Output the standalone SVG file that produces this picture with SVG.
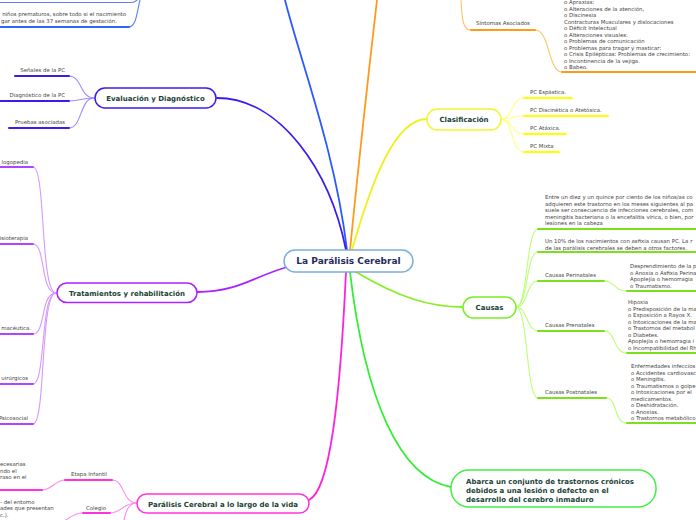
<svg xmlns="http://www.w3.org/2000/svg" width="696" height="520" viewBox="0 0 696 520">
<style>
.t{font-family:"DejaVu Sans",Verdana,sans-serif;font-size:5.4px;fill:#444}
.h{font-family:"DejaVu Sans",Verdana,sans-serif;font-size:7px;font-weight:bold;fill:#1a4236}
.m{font-family:"DejaVu Sans",Verdana,sans-serif;font-size:9px;font-weight:bold;fill:#1f2d5c}
.c{fill:none;stroke-linecap:round}
.main{stroke-width:1.8}
.sub{stroke-width:1.1}
.ul{stroke-width:2}
.box{fill:#fff;stroke-width:1.5}
</style>
<rect width="696" height="520" fill="#fff"/>
<g id="connectors" class="c">
  <path class="c main" stroke="#2b59ff" d="M347,250 C335,150 300,60 285,0"/>
  <path class="c main" stroke="#3a1cf0" d="M217,98 C280,98 330,170 346,250"/>
  <path class="c main" stroke="#ff9a1a" d="M350,250 C360,150 370,60 377,0"/>
  <path class="c main" stroke="#f0f020" d="M352,250 C372,180 395,119 427,119"/>
  <path class="c main" stroke="#88ee22" d="M356,272 C400,298 430,307 463,307"/>
  <path class="c main" stroke="#33ee33" d="M350,272 C365,400 400,478 451,487"/>
  <path class="c main" stroke="#ff22dd" d="M346,272 C340,400 330,490 309,500"/>
  <path class="c main" stroke="#aa22ff" d="M197,292 C240,292 255,275 291,266"/>
  <path class="c sub" stroke="#5b7fff" d="M0,2.5 H131 C135,2.5 136,1 137,0"/>
  <path class="c sub" stroke="#5b7fff" d="M129,27 C136,27 137,12 140,0"/>
  <path class="c ul" stroke="#3366ff" d="M0,27 H129"/>
  <path class="c sub" stroke="#9a8cff" d="M94,98 C80,98 82,76 69,76"/>
  <path class="c sub" stroke="#9a8cff" d="M94,98 C80,98 82,101 69,101"/>
  <path class="c sub" stroke="#9a8cff" d="M94,98 C80,98 82,128 69,128"/>
  <path class="c ul" stroke="#3a1cf0" d="M15,76 H69 M0,101 H69 M9,128 H69"/>
  <path class="c sub" stroke="#ffc266" d="M461,0 C462,20 463,30 471,30"/>
  <path class="c sub" stroke="#ffc266" d="M535,30 C550,30 548,72 562,72"/>
  <path class="c ul" stroke="#ff9a1a" d="M471,30 H535 M562,72 H696"/>
  <path class="c sub" stroke="#ffff80" d="M501,119 C513,119 511,98 524,98"/>
  <path class="c sub" stroke="#ffff80" d="M501,119 C513,119 511,116 524,116"/>
  <path class="c sub" stroke="#ffff80" d="M501,119 C513,119 511,134 524,134"/>
  <path class="c sub" stroke="#ffff80" d="M501,119 C513,119 511,152 524,152"/>
  <path class="c ul" stroke="#ffff00" d="M524,98 H572 M524,116 H608 M524,134 H566 M524,152 H559"/>
  <path class="c sub" stroke="#bbff77" d="M516,307 C528,307 526,229 538,229"/>
  <path class="c sub" stroke="#bbff77" d="M516,307 C528,307 526,252 538,252"/>
  <path class="c sub" stroke="#bbff77" d="M516,307 C528,307 526,281 538,281"/>
  <path class="c sub" stroke="#bbff77" d="M516,307 C528,307 526,331 538,331"/>
  <path class="c sub" stroke="#bbff77" d="M516,307 C528,307 526,398 538,398"/>
  <path class="c sub" stroke="#bbff77" d="M604,281 C616,281 613,291 627,291"/>
  <path class="c sub" stroke="#bbff77" d="M604,331 C616,331 613,353 627,353"/>
  <path class="c sub" stroke="#bbff77" d="M606,398 C618,398 613,423 627,423"/>
  <path class="c ul" stroke="#7be01e" d="M538,229 H696 M538,252 H696 M538,281 H604 M627,291 H696 M538,331 H604 M627,353 H696 M538,398 H606 M627,423 H696"/>
  <path class="c sub" stroke="#d699ff" d="M56,293 C40,293 46,167 33,167"/>
  <path class="c sub" stroke="#d699ff" d="M56,293 C40,293 46,244 33,244"/>
  <path class="c sub" stroke="#d699ff" d="M56,293 C40,293 46,334 33,334"/>
  <path class="c sub" stroke="#d699ff" d="M56,293 C40,293 46,384 33,384"/>
  <path class="c sub" stroke="#d699ff" d="M56,293 C40,293 46,424 33,424"/>
  <path class="c ul" stroke="#b044ff" d="M0,167 H33 M0,244 H33 M0,334 H33 M0,384 H33 M0,424 H33"/>
  <path class="c sub" stroke="#ff88ee" d="M137,503 C122,503 125,480 112,480"/>
  <path class="c sub" stroke="#ff88ee" d="M137,503 C122,503 122,513 110,513"/>
  <path class="c sub" stroke="#ff88ee" d="M137,503 C128,503 126,512 124,520"/>
  <path class="c sub" stroke="#ff88ee" d="M65,480 C55,480 52,490 42,490"/>
  <path class="c sub" stroke="#ff88ee" d="M83,513 C74,513 70,518 64,521"/>
  <path class="c ul" stroke="#ff33dd" d="M65,480 H112 M0,490 H42 M83,513 H110"/>
</g>

<g id="central">
  <rect class="box" x="284" y="250" width="129" height="22" rx="11" stroke="#7aaedc"/>
  <text class="m" x="348.5" y="264.2" text-anchor="middle">La Parálisis Cerebral</text>
</g>

<g id="prematuros">
  <text class="t" x="126" y="16" text-anchor="end">niños prematuros, sobre todo si el nacimiento</text>
  <text class="t" x="117" y="22.7" text-anchor="end">gar antes de las 37 semanas de gestación.</text>
</g>

<g id="evaluacion">
  <rect class="box" x="95" y="88" width="121" height="20" rx="10" stroke="#3a1cf0"/>
  <text class="h" x="155.5" y="100.5" text-anchor="middle">Evaluación y Diagnóstico</text>
</g>
<g id="senales"><text class="t" x="65" y="72" text-anchor="end">Señales de la PC</text></g>
<g id="diagnostico"><text class="t" x="65" y="97" text-anchor="end">Diagnóstico de la PC</text></g>
<g id="pruebas"><text class="t" x="65" y="124" text-anchor="end">Pruebas asociadas</text></g>

<g id="sintomas">
  <text class="t" x="476" y="25">Síntomas Asociados</text>
</g>
<g id="sintomas-lista">
  <text class="t" x="564" y="4">o Apraxias:<tspan x="564" dy="6.5">o Alteraciones de la atención,</tspan><tspan x="564" dy="6.5">o Discinesia</tspan><tspan x="564" dy="6.5">Contracturas Musculares y dislocaciones</tspan><tspan x="564" dy="6.5">o Déficit Intelectual</tspan><tspan x="564" dy="6.5">o Alteraciones visuales:</tspan><tspan x="564" dy="6.5">o Problemas de comunicación</tspan><tspan x="564" dy="6.5">o Problemas para tragar y masticar:</tspan><tspan x="564" dy="6.5">o Crisis Epilépticas: Problemas de crecimiento:</tspan><tspan x="564" dy="6.5">o Incontinencia de la vejiga.</tspan><tspan x="564" dy="6.5">o Babeo.</tspan></text>
</g>

<g id="clasificacion">
  <rect class="box" x="427" y="109" width="74" height="21" rx="10.5" stroke="#f5f530"/>
  <text class="h" x="464" y="122" text-anchor="middle">Clasificación</text>
</g>
<g id="espastica"><text class="t" x="530" y="94">PC Espástica.</text></g>
<g id="discinetica"><text class="t" x="530" y="112">PC Discinética o Atetósica.</text></g>
<g id="ataxica"><text class="t" x="530" y="130">PC Atáxica.</text></g>
<g id="mixta"><text class="t" x="530" y="148">PC Mixta</text></g>

<g id="causas">
  <rect class="box" x="463" y="297" width="53" height="21" rx="10.5" stroke="#77ee22"/>
  <text class="h" x="489.5" y="310.3" text-anchor="middle">Causas</text>
</g>
<g id="causa-infecciones">
  <text class="t" x="545" y="199">Entre un diez y un quince por ciento de los niños/as co<tspan x="545" dy="6.5">adquieren este trastorno en los meses siguientes al pa</tspan><tspan x="545" dy="6.5">suele ser consecuencia de infecciones cerebrales, com</tspan><tspan x="545" dy="6.5">meningitis bacteriana o la encefalitis vírica, o bien, por</tspan><tspan x="545" dy="6.5">lesiones en la cabeza</tspan></text>
</g>
<g id="causa-asfixia">
  <text class="t" x="545" y="243">Un 10% de los nacimientos con asfixia causan PC. La r<tspan x="545" dy="6.5">de las parálisis cerebrales se deben a otros factores.</tspan></text>
</g>
<g id="perinatales">
  <text class="t" x="545" y="277">Causas Perinatales</text>
  <text class="t" x="630" y="268">Desprendimiento de la p<tspan x="630" dy="6.5">o Anoxia o Asfixia Perina</tspan><tspan x="630" dy="6.5">Apoplejía o hemorragia</tspan><tspan x="630" dy="6.5">o Traumatismo.</tspan></text>
</g>
<g id="prenatales">
  <text class="t" x="545" y="327">Causas Prenatales</text>
  <text class="t" x="628" y="304">Hipoxia<tspan x="628" dy="6.5">o Predisposición de la ma</tspan><tspan x="628" dy="6.5">o Exposición a Rayos X.</tspan><tspan x="628" dy="6.5">o Intoxicaciones de la ma</tspan><tspan x="628" dy="6.5">o Trastornos del metabol</tspan><tspan x="628" dy="6.5">o Diabetes.</tspan><tspan x="628" dy="6.5">Apoplejía o hemorragia i</tspan><tspan x="628" dy="6.5">o Incompatibilidad del Rh</tspan></text>
</g>
<g id="postnatales">
  <text class="t" x="545" y="394">Causas Postnatales</text>
  <text class="t" x="631" y="368">Enfermedades infeccios<tspan x="631" dy="6.5">o Accidentes cardiovasc</tspan><tspan x="631" dy="6.5">o Meningitis.</tspan><tspan x="631" dy="6.5">o Traumatismos o golpe</tspan><tspan x="631" dy="6.5">o Intoxicaciones por el</tspan><tspan x="631" dy="6.5">medicamentos.</tspan><tspan x="631" dy="6.5">o Deshidratación.</tspan><tspan x="631" dy="6.5">o Anoxias.</tspan><tspan x="631" dy="6.5">o Trastornos metabólico</tspan></text>
</g>

<g id="definicion">
  <rect class="box" x="451" y="470" width="205" height="37" rx="18" stroke="#44ee44"/>
  <text class="h" x="466" y="484">Abarca un conjunto de trastornos crónicos<tspan x="466" dy="9">debidos a una lesión o defecto en el</tspan><tspan x="466" dy="9">desarrollo del cerebro inmaduro</tspan></text>
</g>

<g id="tratamientos">
  <rect class="box" x="57" y="283" width="140" height="19.5" rx="9.75" stroke="#aa22ff"/>
  <text class="h" x="127" y="295.5" text-anchor="middle">Tratamientos y rehabilitación</text>
</g>
<g id="logopedia"><text class="t" x="28" y="164" text-anchor="end">logopedia</text></g>
<g id="fisioterapia"><text class="t" x="28" y="240" text-anchor="end">isioterapia</text></g>
<g id="farmaceutica"><text class="t" x="31" y="330" text-anchor="end">macéutica.</text></g>
<g id="quirurgicos"><text class="t" x="28" y="380" text-anchor="end">uirúrgicos</text></g>
<g id="psicosocial"><text class="t" x="28" y="420" text-anchor="end">Psicosocial</text></g>

<g id="vida">
  <rect class="box" x="137" y="494" width="172" height="19" rx="9.5" stroke="#ff33dd"/>
  <text class="h" x="223" y="506.5" text-anchor="middle">Parálisis Cerebral a lo largo de la vida</text>
</g>
<g id="etapa-infantil">
  <text class="t" x="89" y="476" text-anchor="middle">Etapa Infantil</text>
  <text class="t" x="0" y="466">ecesarias<tspan x="0" dy="6.5">ndo el</tspan><tspan x="0" dy="6.5">raso en el</tspan></text>
</g>
<g id="colegio">
  <text class="t" x="96" y="510" text-anchor="middle">Colegio</text>
  <text class="t" x="0" y="503.5">- del entorno<tspan x="0" dy="6.5">ades que presentan</tspan><tspan x="0" dy="6.5">c.).</tspan></text>
</g>
</svg>
